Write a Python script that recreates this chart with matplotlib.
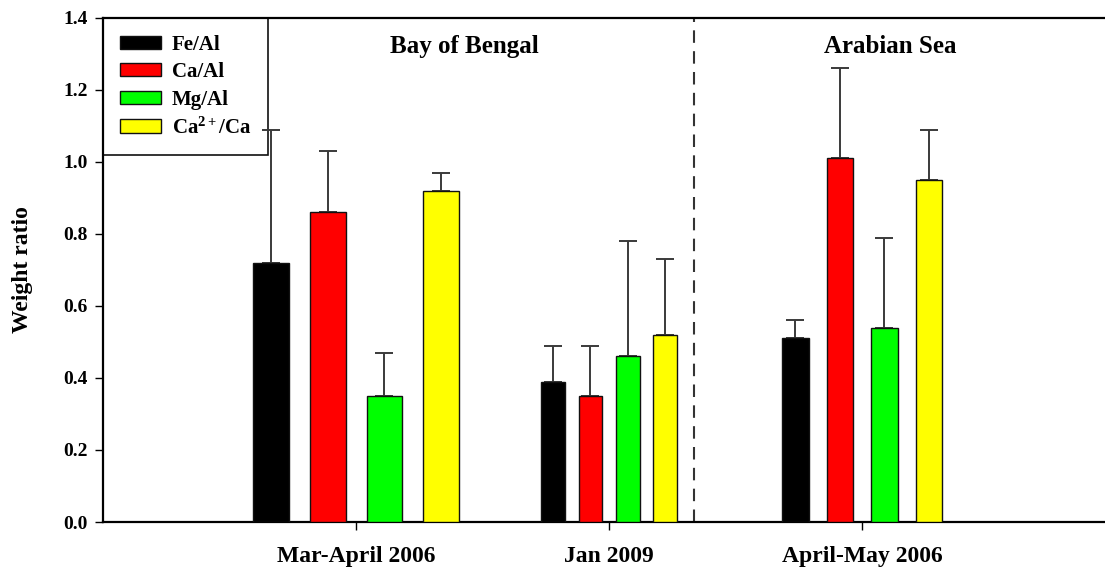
import matplotlib
matplotlib.use("Agg")
import matplotlib.pyplot as plt
import numpy as np

# weight ratios per sampling campaign (mean and mean + sd)
periods=["Mar-April 2006", "Jan 2009", "April-May 2006"]
ratios=["Fe/Al", "Ca/Al", "Mg/Al", "Ca$^{2+}$/Ca"]
colors=["#000000", "#ff0000", "#00ff00", "#ffff00"]

means={
    "Fe/Al": [0.72, 0.39, 0.51],
    "Ca/Al": [0.86, 0.35, 1.01],
    "Mg/Al": [0.35, 0.46, 0.54],
    "Ca$^{2+}$/Ca": [0.92, 0.52, 0.95],
}
upper={
    "Fe/Al": [1.09, 0.49, 0.56],
    "Ca/Al": [1.03, 0.49, 1.26],
    "Mg/Al": [0.47, 0.78, 0.79],
    "Ca$^{2+}$/Ca": [0.97, 0.73, 1.09],
}
regions=["Bay of Bengal", "Arabian Sea"]

plt.rcParams["font.family"]=["Liberation Serif", "DejaVu Serif"]
plt.rcParams["font.weight"]="bold"
plt.rcParams["mathtext.fontset"]="custom"
plt.rcParams["mathtext.rm"]="Liberation Serif:bold"
plt.rcParams["mathtext.it"]="Liberation Serif:bold"
plt.rcParams["mathtext.bf"]="Liberation Serif:bold"

fig=plt.figure(figsize=(11.05, 5.69), dpi=100)
ax=fig.add_axes([0.0932, 0.0826, 0.9068, 0.8858])

centers=np.arange(1, len(periods)+1)
# each campaign was drawn with its own bar width / spacing
spacing=[0.225, 0.148, 0.176]
widths=[0.142, 0.093, 0.105]

for i, ratio in enumerate(ratios):
    for j, c in enumerate(centers):
        x=c+(i-1.5)*spacing[j]
        m=means[ratio][j]
        ax.bar(x, m, width=widths[j], color=colors[i], edgecolor="#111111",
               linewidth=1.0, zorder=3, label=ratio if j==0 else None)
        ax.errorbar(x, m, yerr=[[0], [upper[ratio][j]-m]], fmt="none",
                    ecolor="#3a3a3a", elinewidth=1.4, capsize=6.5, capthick=1.4, zorder=2)

ax.axvline(2.336, color="#333333", linewidth=1.5, linestyle=(0, (6, 4)), zorder=1)

ax.text(1.427, 1.322, regions[0], ha="center", va="center", fontsize=18, fontweight="bold")
ax.text(3.11, 1.322, regions[1], ha="center", va="center", fontsize=18, fontweight="bold")

ax.set_xlim(0, 3.96)
ax.set_ylim(0, 1.4)
ax.set_yticks(np.arange(0, 1.41, 0.2))
ax.set_yticklabels([f"{v:.1f}" for v in np.arange(0, 1.41, 0.2)], fontsize=14)
ax.set_xticks(centers)
ax.set_xticklabels(periods, fontsize=17)
ax.tick_params(axis="x", direction="out", length=6, width=1, pad=11)
ax.tick_params(axis="y", direction="out", length=6, width=1, pad=5)
ax.set_ylabel("Weight ratio", fontsize=17, fontweight="bold", labelpad=22)

for side in ["top", "bottom", "left"]:
    ax.spines[side].set_linewidth(1.6)
ax.spines["right"].set_visible(False)

leg=ax.legend(loc="upper left", bbox_to_anchor=(0, 1), borderaxespad=0, fancybox=False,
              edgecolor="#111111", framealpha=1, fontsize=15, handlelength=2.0,
              handleheight=0.6, labelspacing=0.36, borderpad=0.8, handletextpad=0.5)
leg.get_frame().set_linewidth(1.2)
leg.set_zorder(1)

fig.savefig("out.png", dpi=100)
